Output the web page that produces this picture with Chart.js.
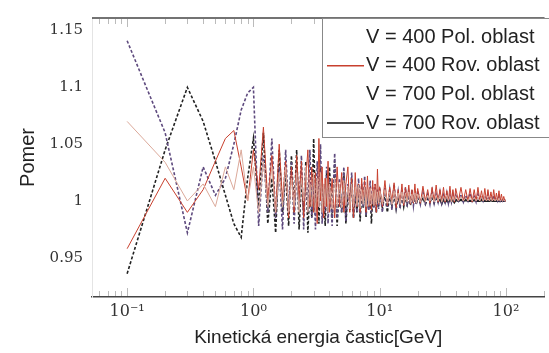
<!DOCTYPE html>
<html>
<head>
<meta charset="utf-8">
<script src="https://cdn.jsdelivr.net/npm/chart.js"></script>
<style>
  body { margin: 0; background: #fff; }
  canvas { display: block; }
</style>
</head>
<body>
<canvas id="chart" width="549" height="353" style="width:549px;height:353px"></canvas>
<script>
// kinetic energy [GeV] of the sampled points
const energy = [0.1, 0.2, 0.3, 0.4, 0.5, 0.6, 0.7, 0.8, 0.9, 1.0,
    1.1, 1.2, 1.3, 1.4, 1.5, 1.6, 1.7, 1.8, 1.9, 2.0,
    2.1, 2.2, 2.3, 2.4, 2.5, 2.6, 2.7, 2.8, 2.9, 3.0,
    3.1, 3.2, 3.3, 3.4, 3.5, 3.6, 3.7, 3.8, 3.9, 4.0,
    4.2, 4.4, 4.6, 4.8, 5.0, 5.2, 5.4, 5.6, 5.8, 6.0,
    6.2, 6.4, 6.6, 6.8, 7.0, 7.2, 7.4, 7.6, 7.8, 8.0,
    8.2, 8.4, 8.6, 8.8, 9.0, 9.2, 9.4, 9.6, 9.8, 10.0,
    10.5, 11, 11.5, 12, 12.5, 13, 13.5, 14, 14.5, 15,
    15.5, 16, 16.5, 17, 17.5, 18, 18.5, 19, 19.5, 20,
    21, 22, 23, 24, 25, 26, 27, 28, 29, 30,
    31, 32, 33, 34, 35, 36, 37, 38, 39, 40,
    42, 44, 46, 48, 50, 52, 54, 56, 58, 60,
    62, 64, 66, 68, 70, 72, 74, 76, 78, 80,
    82, 84, 86, 88, 90, 92, 94, 96, 98, 100];

const labels = ['V = 400 Pol. oblast', 'V = 400 Rov. oblast', 'V = 700 Pol. oblast', 'V = 700 Rov. oblast'];

const v400pol = [1.07, 1.034, 1.0, 1.015, 0.995, 1.03, 1.01, 1.045, 1.0, 1.03,
    0.99, 1.035, 0.995, 1.03, 0.99, 1.025, 0.995, 1.03, 0.99, 1.02,
    0.995, 1.025, 0.99, 1.02, 1.0, 1.03, 0.99, 1.015, 0.995, 1.025,
    0.99, 1.02, 0.995, 1.025, 0.99, 1.015, 0.995, 1.02, 0.99, 1.015,
    0.993, 1.02, 0.995, 1.015, 0.994, 1.018, 0.996, 1.012, 0.993, 1.015,
    0.995, 1.012, 0.996, 1.014, 0.994, 1.01, 0.997, 1.012, 0.995, 1.01,
    0.996, 1.011, 0.997, 1.009, 0.996, 1.01, 0.997, 1.008, 0.998, 1.009,
    0.997, 1.01, 0.998, 1.008, 0.997, 1.009, 0.998, 1.007, 0.997, 1.008,
    0.998, 1.007, 0.999, 1.008, 0.998, 1.006, 0.999, 1.007, 0.998, 1.006,
    0.999, 1.006, 0.999, 1.005, 1.0, 1.006, 0.999, 1.005, 1.0, 1.005,
    0.999, 1.004, 1.0, 1.005, 1.0, 1.004, 0.999, 1.004, 1.0, 1.004,
    1.0, 1.004, 1.0, 1.003, 1.0, 1.004, 1.0, 1.003, 1.0, 1.003,
    1.0, 1.004, 1.0, 1.003, 1.0, 1.002, 1.0, 1.003, 1.0, 1.002,
    1.0, 1.002, 1.0, 1.002, 1.0, 1.001, 1.0, 1.001, 1.0, 1.0];

const v400rov = [0.958, 1.02, 0.99, 1.01, 1.035, 1.055, 1.062, 1.03, 1.0, 1.045,
    1.01, 1.065, 1.0, 1.04, 0.99, 1.05, 1.0, 1.035, 0.985, 1.03,
    0.99, 1.04, 1.0, 1.035, 0.985, 1.02, 1.045, 0.995, 1.03, 0.99,
    1.025, 0.98, 1.055, 1.0, 1.03, 0.985, 1.02, 0.995, 1.035, 0.99,
    1.02, 0.985, 1.03, 0.995, 1.025, 0.99, 1.015, 1.03, 0.99, 1.02,
    0.985, 1.025, 0.995, 1.015, 0.99, 1.02, 1.0, 1.018, 0.99, 1.022,
    0.995, 1.012, 0.992, 1.018, 0.996, 1.015, 0.99, 1.028, 0.997, 1.012,
    0.995, 1.018, 0.996, 1.012, 1.0, 1.016, 0.994, 1.01, 0.998, 1.015,
    0.996, 1.012, 1.0, 1.014, 0.997, 1.01, 0.998, 1.015, 0.999, 1.011,
    0.998, 1.013, 1.0, 1.01, 0.998, 1.012, 1.0, 1.014, 0.999, 1.01,
    1.0, 1.012, 0.999, 1.009, 1.0, 1.013, 1.0, 1.01, 0.999, 1.011,
    1.0, 1.012, 1.0, 1.01, 1.0, 1.011, 0.999, 1.01, 1.0, 1.012,
    1.0, 1.009, 1.0, 1.011, 1.0, 1.01, 1.0, 1.008, 1.0, 1.01,
    1.0, 1.007, 1.0, 1.009, 1.0, 1.006, 1.0, 1.004, 1.0, 1.0];

const v700pol = [1.141, 1.06, 0.972, 1.03, 1.005, 1.02, 1.05, 1.08, 1.095, 1.10,
    0.978, 1.04, 0.99, 1.055, 0.985, 1.03, 0.975, 1.045, 0.99, 1.035,
    0.98, 1.025, 0.995, 1.04, 0.975, 1.03, 0.99, 1.045, 0.985, 1.02,
    0.975, 1.035, 0.995, 1.05, 0.98, 1.015, 0.99, 1.03, 0.98, 1.02,
    0.978, 1.042, 0.985, 1.02, 0.99, 1.03, 0.982, 1.015, 0.995, 1.025,
    0.985, 1.012, 0.99, 1.02, 0.988, 1.015, 0.995, 1.022, 0.987, 1.01,
    0.992, 1.018, 0.99, 1.012, 0.994, 1.015, 0.99, 1.01, 0.993, 1.012,
    0.99, 1.012, 0.994, 1.01, 0.992, 1.015, 0.995, 1.008, 0.993, 1.01,
    0.996, 1.012, 0.995, 1.008, 0.997, 1.01, 0.996, 1.007, 0.997, 1.009,
    0.997, 1.008, 0.998, 1.006, 0.997, 1.009, 0.998, 1.006, 0.999, 1.008,
    0.998, 1.005, 0.999, 1.007, 0.998, 1.005, 0.999, 1.006, 0.999, 1.005,
    1.0, 1.006, 0.999, 1.005, 1.0, 1.007, 1.0, 1.004, 0.999, 1.006,
    1.0, 1.005, 1.0, 1.004, 1.0, 1.006, 1.0, 1.004, 1.0, 1.005,
    1.0, 1.003, 1.0, 1.004, 1.0, 1.002, 1.0, 1.002, 1.0, 1.0];

const v700rov = [0.936, 1.045, 1.10, 1.07, 1.035, 1.005, 0.98, 0.968, 1.02, 1.055,
    0.995, 1.06, 0.98, 1.02, 0.972, 1.045, 0.99, 1.025, 0.978, 1.04,
    0.99, 1.045, 0.975, 1.02, 0.99, 1.035, 0.972, 1.015, 0.985, 1.055,
    0.99, 1.02, 0.98, 1.03, 0.99, 1.015, 0.978, 1.025, 0.99, 1.03,
    0.985, 1.035, 0.978, 1.015, 0.99, 1.025, 0.98, 1.01, 0.992, 1.02,
    0.985, 1.008, 0.99, 1.015, 0.982, 1.01, 0.994, 1.012, 0.986, 1.008,
    0.993, 1.01, 0.98, 1.006, 0.995, 1.01, 0.99, 1.006, 0.995, 1.008,
    0.994, 1.006, 0.99, 1.005, 0.996, 1.007, 0.993, 1.004, 0.996, 1.006,
    0.995, 1.004, 0.997, 1.005, 0.996, 1.003, 0.998, 1.004, 0.997, 1.003,
    0.998, 1.003, 0.997, 1.002, 0.999, 1.003, 0.998, 1.002, 0.999, 1.002,
    0.998, 1.002, 0.999, 1.001, 0.999, 1.002, 1.0, 1.001, 0.999, 1.001,
    1.0, 1.001, 1.0, 1.001, 1.0, 1.0, 1.0, 1.001, 1.0, 1.0,
    1.0, 1.001, 1.0, 1.0, 1.0, 1.0, 1.0, 1.001, 1.0, 1.0,
    1.0, 1.0, 1.0, 1.0, 1.0, 1.0, 1.0, 1.0, 1.0, 1.0];

// axis ticks
const yTicks = [0.95, 1, 1.05, 1.1, 1.15];
const yTickLabels = ['0.95', '1', '1.05', '1.1', '1.15'];
const xTicks = [0.06, 0.07, 0.08, 0.09, 0.1, 0.2, 0.3, 0.4, 0.5, 0.6, 0.7, 0.8, 0.9,
    1, 2, 3, 4, 5, 6, 7, 8, 9, 10, 20, 30, 40, 50, 60, 70, 80, 90, 100, 200];
const xMajor = [0.1, 1, 10, 100];
const xMajorLabels = ['10⁻¹', '10⁰', '10¹', '10²'];

function pts(vals) {
    return energy.map((e, i) => ({x: e, y: vals[i]}));
}

// legend: the Pol. entries show no sample line in the original
const legendSamples = [null, '#c8402e', null, '#111'];

const frame = {
    id: 'frame',
    afterDraw(chart) {
        const ctx = chart.ctx;
        const a = chart.chartArea;
        const xs = chart.scales.x;
        ctx.save();
        // top border
        ctx.strokeStyle = '#444';
        ctx.lineWidth = 1.5;
        ctx.beginPath();
        ctx.moveTo(a.left, a.top);
        ctx.lineTo(a.right, a.top);
        ctx.stroke();
        // inner tick marks top and bottom
        ctx.strokeStyle = '#bbb';
        ctx.lineWidth = 1;
        xTicks.forEach(v => {
            const px = Math.round(xs.getPixelForValue(v)) + 0.5;
            const len = xMajor.includes(v) ? 8 : 5;
            ctx.beginPath();
            ctx.moveTo(px, a.bottom - 1);
            ctx.lineTo(px, a.bottom - 1 - len);
            ctx.moveTo(px, a.top + 1);
            ctx.lineTo(px, a.top + 1 + len);
            ctx.stroke();
        });
        // legend box
        const bx = 322, by = 18, bw = 240, bh = 119;
        ctx.fillStyle = '#fff';
        ctx.fillRect(bx, by, bw, bh);
        ctx.strokeStyle = '#888';
        ctx.strokeRect(bx + 0.5, by + 0.5, bw, bh);
        ctx.font = '20px "Liberation Sans", Arial, sans-serif';
        ctx.textBaseline = 'middle';
        ctx.textAlign = 'left';
        labels.forEach((t, i) => {
            const y = 37 + i * 28.7;
            if (legendSamples[i]) {
                ctx.strokeStyle = legendSamples[i];
                ctx.lineWidth = 1.5;
                ctx.beginPath();
                ctx.moveTo(327, y);
                ctx.lineTo(364, y);
                ctx.stroke();
            }
            ctx.fillStyle = '#222';
            ctx.fillText(t, 366, y);
        });
        ctx.restore();
    }
};

const data = {
    datasets: [
        {
            label: labels[0],
            data: pts(v400pol),
            borderColor: '#dba99a',
            borderWidth: 1
        }, {
            label: labels[1],
            data: pts(v400rov),
            borderColor: '#c8402e',
            borderWidth: 1
        }, {
            label: labels[2],
            data: pts(v700pol),
            borderColor: '#5e4a7e',
            borderWidth: 1.6,
            borderDash: [3, 2]
        }, {
            label: labels[3],
            data: pts(v700rov),
            borderColor: '#222',
            borderWidth: 1.6,
            borderDash: [3, 2],
            // dense tail merges into a solid black band
            segment: {
                borderDash: c => c.p0.parsed.x >= 30 ? [] : undefined,
                borderWidth: c => c.p0.parsed.x >= 30 ? 2.2 : undefined
            }
        }
    ]
};

const config = {
    type: 'line',
    data: data,
    options: {
        responsive: false,
        animation: false,
        layout: {padding: {top: 12, right: 0, left: 0, bottom: 0}},
        elements: {point: {radius: 0}, line: {tension: 0}},
        plugins: {
            legend: {display: false},
            tooltip: {enabled: false}
        },
        scales: {
            x: {
                type: 'logarithmic',
                min: 0.0527,
                max: 202,
                afterBuildTicks: s => { s.ticks = xTicks.map(v => ({value: v})); },
                afterFit: s => { s.height = 56; },
                grid: {display: false, drawTicks: false},
                border: {display: true, color: '#444', width: 1.5},
                ticks: {
                    autoSkip: false,
                    maxRotation: 0,
                    padding: 5,
                    color: '#333',
                    font: {family: '"DejaVu Serif", serif', size: 16},
                    callback: v => {
                        const i = xMajor.indexOf(v);
                        return i >= 0 ? xMajorLabels[i] : '';
                    }
                },
                title: {
                    display: true,
                    text: 'Kinetická energia častic[GeV]',
                    color: '#222',
                    font: {family: '"Liberation Sans", Arial, sans-serif', size: 19},
                    padding: {top: 0, bottom: 4}
                }
            },
            y: {
                min: 0.9155,
                max: 1.161,
                afterBuildTicks: s => { s.ticks = yTicks.map(v => ({value: v})); },
                afterFit: s => { s.width = 92; },
                grid: {display: false, drawTicks: false},
                border: {display: true, color: '#e4e4e4', width: 1},
                ticks: {
                    padding: 9,
                    color: '#333',
                    font: {family: '"DejaVu Serif", serif', size: 15},
                    callback: v => yTickLabels[yTicks.indexOf(v)]
                },
                title: {
                    display: true,
                    text: 'Pomer',
                    color: '#222',
                    font: {family: '"Liberation Sans", Arial, sans-serif', size: 20},
                    padding: {top: 16, bottom: 0}
                }
            }
        }
    },
    plugins: [frame]
};

const ctx = document.getElementById('chart').getContext('2d');
const myChart = new Chart(ctx, config);
</script>
</body>
</html>
